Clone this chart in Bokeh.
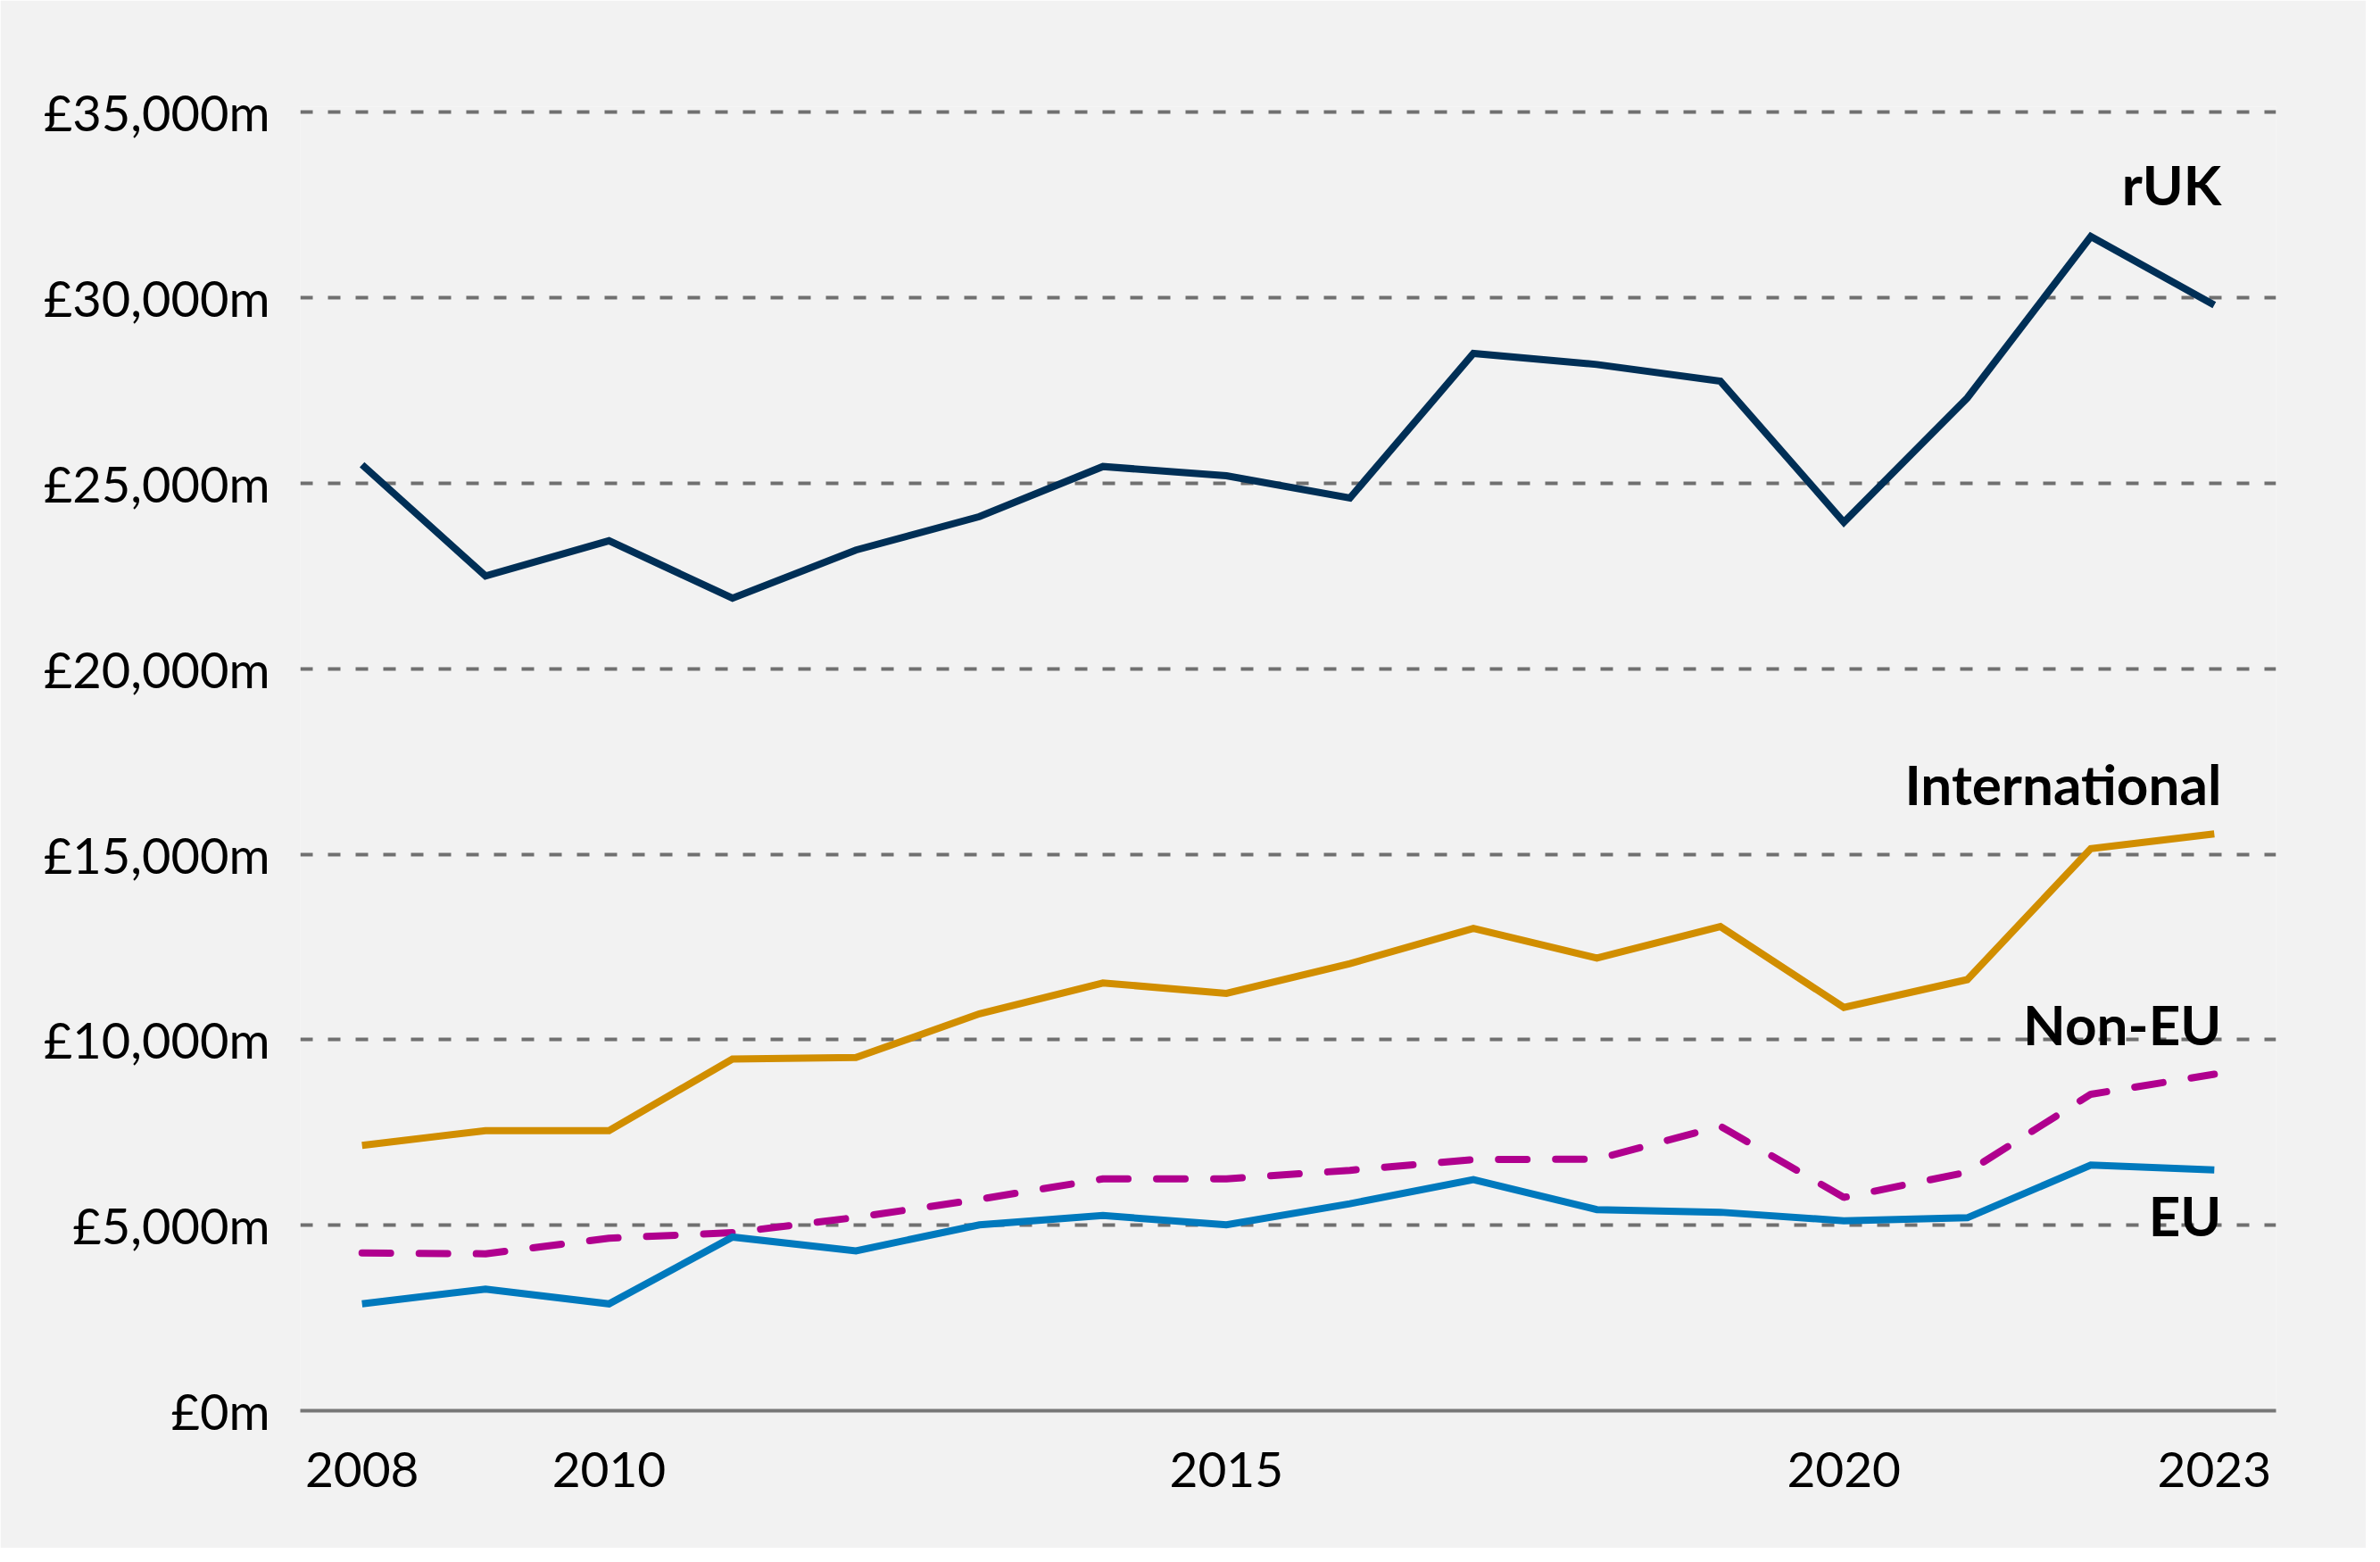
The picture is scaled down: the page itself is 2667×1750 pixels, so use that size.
from bokeh.plotting import figure
from bokeh.models import ColumnDataSource, FixedTicker
from bokeh.core.properties import value
from bokeh.embed import file_html
from bokeh.resources import INLINE

# Data (GBP millions)
years = list(range(2008, 2024))
ruk = [25500, 22500, 23450, 21900, 23200, 24100, 25450, 25200, 24600,
       28500, 28200, 27750, 23950, 27300, 31650, 29800]
international = [7150, 7550, 7550, 9480, 9520, 10700, 11530, 11250, 12050,
                 13000, 12200, 13050, 10870, 11620, 15150, 15550]
non_eu = [4250, 4230, 4650, 4800, 5210, 5700, 6250, 6250, 6480,
          6770, 6780, 7670, 5750, 6430, 8530, 9070]
eu = [2880, 3280, 2880, 4680, 4310, 5010, 5260, 5010, 5580,
      6230, 5420, 5350, 5120, 5200, 6620, 6490]

x_ticks = [2008, 2010, 2015, 2020, 2023]
y_ticks = [0, 5000, 10000, 15000, 20000, 25000, 30000, 35000]
y_tick_labels = ["£0m", "£5,000m", "£10,000m", "£15,000m", "£20,000m",
                 "£25,000m", "£30,000m", "£35,000m"]

series_names = ["rUK", "International", "Non-EU", "EU"]
label_y = [33070, 16900, 10420, 5290]

BG = "#f2f2f2"
FONT = "Lato"

p = figure(width=2651, height=1734, x_range=(2007.5, 2023.5), y_range=(0, 35150),
           toolbar_location=None, tools="", output_backend="svg",
           background_fill_color=BG, border_fill_color=BG,
           min_border_left=336, min_border_right=101,
           min_border_top=119, min_border_bottom=154)
p.outline_line_color = None

src = ColumnDataSource(data=dict(year=years, ruk=ruk, intl=international,
                                 non_eu=non_eu, eu=eu))

p.line("year", "ruk", source=src, line_color="#002f56", line_width=8, line_join="miter")
p.line("year", "intl", source=src, line_color="#d18e00", line_width=8, line_join="miter")
p.line("year", "non_eu", source=src, line_color="#b0008e", line_width=8,
       line_dash="32 32", line_cap="round")
p.line("year", "eu", source=src, line_color="#0079bd", line_width=8, line_join="miter")

# series labels at the right end
lab = ColumnDataSource(data=dict(x=[2023] * 4, y=label_y, t=series_names))
p.text("x", "y", text="t", source=lab, x_offset=8, text_align="right",
       text_baseline="middle", text_font=value(FONT), text_font_style="bold",
       text_font_size="62px", text_color="black")

# grid
p.xgrid.grid_line_color = None
p.ygrid.ticker = FixedTicker(ticks=y_ticks)
p.ygrid.grid_line_color = "#707070"
p.ygrid.grid_line_width = 4
p.ygrid.grid_line_dash = "14 17"

# y axis
p.yaxis.ticker = FixedTicker(ticks=y_ticks)
p.yaxis.major_label_overrides = {t: s for t, s in zip(y_ticks, y_tick_labels)}
p.yaxis.axis_line_color = None
p.yaxis.major_tick_line_color = None
p.yaxis.minor_tick_line_color = None
p.yaxis.major_tick_out = 0
p.yaxis.major_tick_in = 0
p.yaxis.major_label_standoff = 34
p.yaxis.major_label_text_font = FONT
p.yaxis.major_label_text_font_size = "56px"
p.yaxis.major_label_text_color = "black"

# x axis
p.xaxis.ticker = FixedTicker(ticks=x_ticks)
p.xaxis.axis_line_color = "#777777"
p.xaxis.axis_line_width = 4
p.xaxis.major_tick_line_color = None
p.xaxis.minor_tick_line_color = None
p.xaxis.major_tick_out = 0
p.xaxis.major_tick_in = 0
p.xaxis.major_label_standoff = 46
p.xaxis.major_label_text_font = FONT
p.xaxis.major_label_text_font_size = "55px"
p.xaxis.major_label_text_color = "black"

open("out.html", "w").write(file_html(p, INLINE))
